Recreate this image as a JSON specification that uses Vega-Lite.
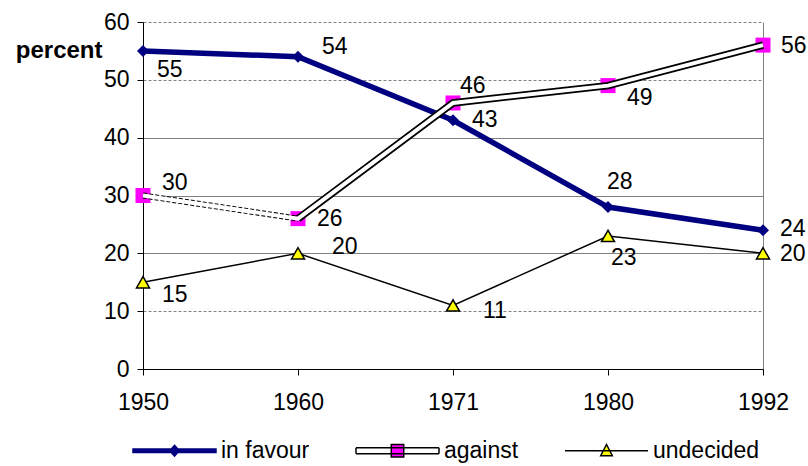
{
  "$schema": "https://vega.github.io/schema/vega-lite/v6.json",
  "autosize": "none",
  "padding": {"left": 143, "top": 22, "right": 45, "bottom": 97},
  "width": 620,
  "height": 347,
  "background": "white",
  "config": {"view": {"stroke": null}, "font": "Liberation Sans"},
  "data": {
    "values": [
      {"year": "1950", "series": "in favour", "value": 55},
      {"year": "1960", "series": "in favour", "value": 54},
      {"year": "1971", "series": "in favour", "value": 43},
      {"year": "1980", "series": "in favour", "value": 28},
      {"year": "1992", "series": "in favour", "value": 24},
      {"year": "1950", "series": "against", "value": 30},
      {"year": "1960", "series": "against", "value": 26},
      {"year": "1971", "series": "against", "value": 46},
      {"year": "1980", "series": "against", "value": 49},
      {"year": "1992", "series": "against", "value": 56},
      {"year": "1950", "series": "undecided", "value": 15},
      {"year": "1960", "series": "undecided", "value": 20},
      {"year": "1971", "series": "undecided", "value": 11},
      {"year": "1980", "series": "undecided", "value": 23},
      {"year": "1992", "series": "undecided", "value": 20}
    ]
  },
  "encoding": {
    "x": {
      "field": "year", "type": "ordinal",
      "scale": {"type": "point", "padding": 0},
      "axis": {
        "title": null, "labelAngle": 0, "labelFontSize": 23, "labelColor": "black",
        "labelPadding": 16, "tickSize": 6, "tickColor": "black", "domainColor": "black",
        "grid": true, "gridColor": "#808080",
        "gridOpacity": {"condition": {"test": "datum.value === '1992'", "value": 1}, "value": 0}
      }
    },
    "y": {
      "field": "value", "type": "quantitative",
      "scale": {"domain": [0, 60]},
      "axis": {
        "values": [0, 10, 20, 30, 40, 50, 60],
        "labelFontSize": 23, "labelColor": "black", "labelPadding": 8,
        "tickSize": 6, "tickColor": "black", "domainColor": "black",
        "grid": true, "gridColor": "#808080",
        "gridDash": {"condition": {"test": "datum.value === 60 || datum.value === 50 || datum.value === 10", "value": [3, 2]}, "value": []},
        "title": "percent", "titleAngle": 0, "titleFontWeight": "bold", "titleFontSize": 24,
        "titleColor": "black", "titleX": -41, "titleY": 35, "titleAlign": "right", "titleBaseline": "alphabetic"
      }
    }
  },
  "layer": [
    {
      "transform": [{"filter": "datum.series === 'in favour'"}],
      "mark": {"type": "line", "color": "#000080", "strokeWidth": 5.5}
    },
    {
      "transform": [{"filter": "datum.series === 'in favour'"}],
      "mark": {"type": "point", "shape": "diamond", "filled": true, "size": 144, "color": "#000080", "opacity": 1}
    },
    {
      "transform": [{"filter": "datum.series === 'against'"}],
      "mark": {"type": "point", "shape": "square", "filled": true, "size": 225, "color": "#FF00FF", "opacity": 1, "strokeWidth": 0}
    },
    {
      "transform": [{"filter": "datum.series === 'against' && (datum.year === '1950' || datum.year === '1960')"}],
      "mark": {"type": "line", "color": "#000000", "strokeWidth": 6, "strokeDash": [4, 2]}
    },
    {
      "transform": [{"filter": "datum.series === 'against' && datum.year !== '1950'"}],
      "mark": {"type": "line", "color": "#000000", "strokeWidth": 7.5}
    },
    {
      "transform": [{"filter": "datum.series === 'against'"}],
      "mark": {"type": "line", "color": "#FFFFFF", "strokeWidth": 4}
    },
    {
      "transform": [{"filter": "datum.series === 'undecided'"}],
      "mark": {"type": "line", "color": "#000000", "strokeWidth": 1.5}
    },
    {
      "transform": [{"filter": "datum.series === 'undecided'"}],
      "mark": {"type": "point", "shape": "triangle-up", "filled": true, "size": 169, "fill": "#FFFF00", "stroke": "#000000", "strokeWidth": 1.5, "opacity": 1}
    },
    {
      "transform": [{"filter": "false"}],
      "mark": {"type": "point", "size": 6889, "opacity": 1, "filled": true, "strokeWidth": 1.5},
      "encoding": {
        "shape": {
          "field": "series", "type": "nominal",
          "scale": {"domain": ["in favour", "against", "undecided"], "range": [
            "M-1,-0.042H1V0.042H-1ZM0,-0.13L0.115,0L0,0.13L-0.115,0Z",
            "M-1,-0.07H1M1,-0.07V0.07M1,0.07H-1M-1,0.07V-0.07M-0.15,-0.15H0.15V0.15H-0.15Z",
            "M-1,0H1M0,-0.15L0.14,0.12L-0.14,0.12Z"
          ]},
          "legend": {
            "orient": "none", "legendX": -11, "legendY": 386, "direction": "horizontal", "columns": 3,
            "title": null, "padding": 0, "symbolSize": 6889, "symbolStrokeWidth": 1.5, "symbolOpacity": 1,
            "labelFontSize": 23, "labelFont": "Liberation Sans", "labelColor": "black",
            "labelOffset": 4, "columnPadding": 43
          }
        },
        "fill": {
          "field": "series", "type": "nominal",
          "scale": {"domain": ["in favour", "against", "undecided"], "range": ["#000080", "#FF00FF", "#FFFF00"]},
          "legend": {
            "orient": "none", "legendX": -11, "legendY": 386, "direction": "horizontal", "columns": 3,
            "title": null, "padding": 0, "symbolSize": 6889, "symbolStrokeWidth": 1.5, "symbolOpacity": 1,
            "labelFontSize": 23, "labelFont": "Liberation Sans", "labelColor": "black",
            "labelOffset": 4, "columnPadding": 43
          }
        },
        "stroke": {
          "field": "series", "type": "nominal",
          "scale": {"domain": ["in favour", "against", "undecided"], "range": ["#000080", "#000000", "#000000"]},
          "legend": {
            "orient": "none", "legendX": -11, "legendY": 386, "direction": "horizontal", "columns": 3,
            "title": null, "padding": 0, "symbolSize": 6889, "symbolStrokeWidth": 1.5, "symbolOpacity": 1,
            "labelFontSize": 23, "labelFont": "Liberation Sans", "labelColor": "black",
            "labelOffset": 4, "columnPadding": 43
          }
        }
      }
    },
    {
      "mark": {
        "type": "text", "align": "left", "baseline": "middle", "fontSize": 23, "color": "black",
        "dx": {"expr": "datum.series === 'in favour' ? [14,24,19,-1,17][indexof(['1950','1960','1971','1980','1992'], datum.year)] : datum.series === 'against' ? [19,19,7,19,18][indexof(['1950','1960','1971','1980','1992'], datum.year)] : [19,34,30,3,17][indexof(['1950','1960','1971','1980','1992'], datum.year)]"},
        "dy": {"expr": "datum.series === 'in favour' ? [19,-10,0,-25,-1][indexof(['1950','1960','1971','1980','1992'], datum.year)] : datum.series === 'against' ? [-13,0,-17,12,1][indexof(['1950','1960','1971','1980','1992'], datum.year)] : [13,-6,6,22,1][indexof(['1950','1960','1971','1980','1992'], datum.year)]"}
      },
      "encoding": {"text": {"field": "value", "type": "quantitative"}}
    }
  ]
}
